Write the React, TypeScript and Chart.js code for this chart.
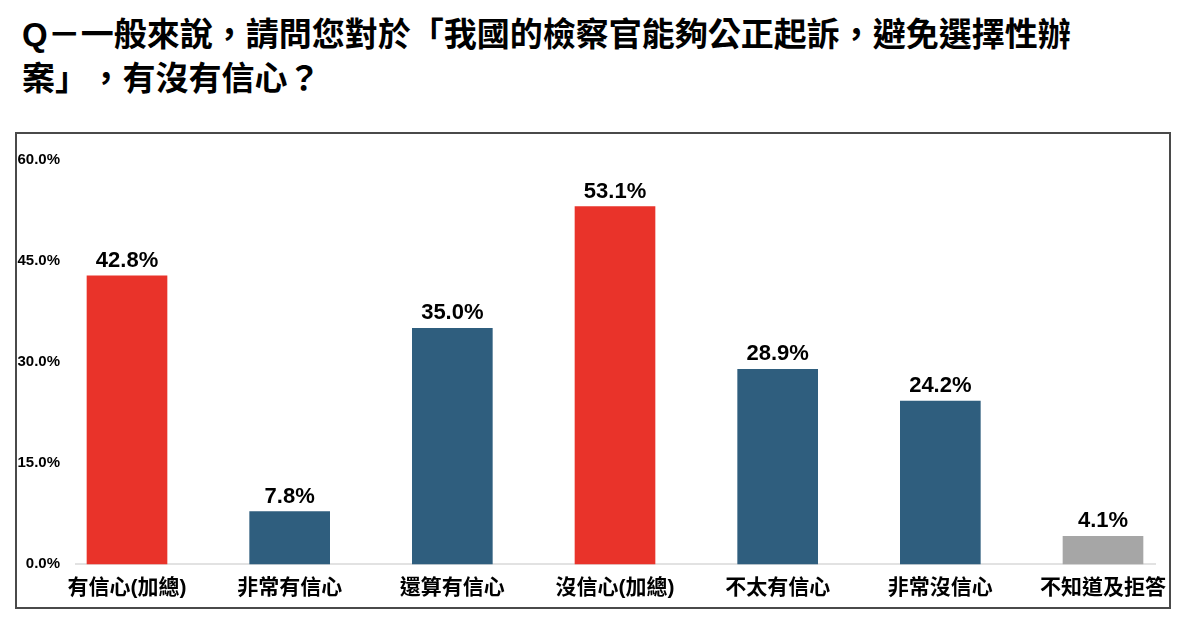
import React, { useEffect, useRef } from "react";
import { Chart, registerables } from "chart.js";

Chart.register(...registerables);

const titleLine1 = "Q－一般來說，請問您對於「我國的檢察官能夠公正起訴，避免選擇性辦";
const titleLine2a = "案」";
const titleLine2b = "，有沒有信心？";

const categories = [
  "有信心(加總)",
  "非常有信心",
  "還算有信心",
  "沒信心(加總)",
  "不太有信心",
  "非常沒信心",
  "不知道及拒答",
];
const values = [42.8, 7.8, 35.0, 53.1, 28.9, 24.2, 4.1];
const barColors = ["#E9332A", "#2F5E7E", "#2F5E7E", "#E9332A", "#2F5E7E", "#2F5E7E", "#A6A6A6"];
const yTicks = [0, 15, 30, 45, 60];

const CJK = '"Liberation Sans", "Noto Sans CJK TC", sans-serif';

const valueLabels = {
  id: "valueLabels",
  afterDatasetsDraw(chart: any) {
    const ctx = chart.ctx;
    const meta = chart.getDatasetMeta(0);
    ctx.save();
    ctx.font = 'bold 22px "Liberation Sans", Arial, sans-serif';
    ctx.fillStyle = "#000";
    ctx.textAlign = "center";
    ctx.textBaseline = "middle";
    meta.data.forEach((bar: any, i: number) => {
      ctx.fillText(values[i].toFixed(1) + "%", bar.x, bar.y - 15);
    });
    ctx.restore();
  },
};

const baseline = {
  id: "baseline",
  beforeDatasetsDraw(chart: any) {
    const { ctx, chartArea, scales } = chart;
    const y = scales.y.getPixelForValue(0);
    ctx.save();
    ctx.strokeStyle = "#D9D9D9";
    ctx.lineWidth = 1.5;
    ctx.beginPath();
    ctx.moveTo(chartArea.left - 52, y);
    ctx.lineTo(chartArea.right + 53, y);
    ctx.stroke();
    ctx.restore();
  },
};

export default function App() {
  const ref = useRef<HTMLCanvasElement>(null);
  useEffect(() => {
    if (!ref.current) return;
    const chart = new Chart(ref.current, {
      type: "bar",
      data: {
        labels: categories,
        datasets: [
          {
            data: values,
            backgroundColor: barColors,
            barThickness: 80,
            borderWidth: 0,
            clip: false,
          } as any,
        ],
      },
      options: {
        animation: false,
        responsive: false,
        layout: { padding: { left: 0, right: 97, top: 155, bottom: 22 } },
        plugins: { legend: { display: false }, tooltip: { enabled: false }, title: { display: false } },
        scales: {
          x: {
            offset: false,
            grid: { display: false, drawTicks: false },
            border: { display: false },
            ticks: {
              autoSkip: false,
              maxRotation: 0,
              padding: 12,
              color: "#000",
              font: { family: CJK, size: 21, weight: "bold" },
            },
            afterFit(scale: any) {
              scale.height = 40;
            },
          },
          y: {
            min: 0,
            max: 60,
            grid: { display: false, drawTicks: false },
            border: { display: false },
            afterBuildTicks(scale: any) {
              scale.ticks = yTicks.map((v) => ({ value: v }));
            },
            ticks: {
              padding: 67,
              color: "#000",
              font: { family: '"Liberation Sans", Arial, sans-serif', size: 15, weight: "bold" },
              callback: (v: any) => Number(v).toFixed(1) + "%",
            },
            afterFit(scale: any) {
              scale.width = 127;
            },
          },
        },
      },
      plugins: [baseline, valueLabels],
    });
    return () => chart.destroy();
  }, []);

  return (
    <div
      style={{
        position: "absolute",
        left: 0,
        top: 0,
        width: 1200,
        height: 635,
        background: "#fff",
        overflow: "hidden",
      }}
    >
      <div
        style={{
          position: "absolute",
          left: 22,
          top: 13,
          fontFamily: CJK,
          fontWeight: "bold",
          fontSize: 33,
          lineHeight: "44px",
          color: "#000",
          whiteSpace: "nowrap",
        }}
      >
        {titleLine1}
        <br />
        <span style={{ marginRight: 18 }}>{titleLine2a}</span>
        {titleLine2b}
      </div>
      <div
        style={{
          position: "absolute",
          left: 15,
          top: 132,
          width: 1156,
          height: 477,
          border: "2px solid #4A4A4A",
          boxSizing: "border-box",
        }}
      />
      <canvas ref={ref} width={1200} height={635} style={{ position: "absolute", left: 0, top: 5 }} />
    </div>
  );
}
